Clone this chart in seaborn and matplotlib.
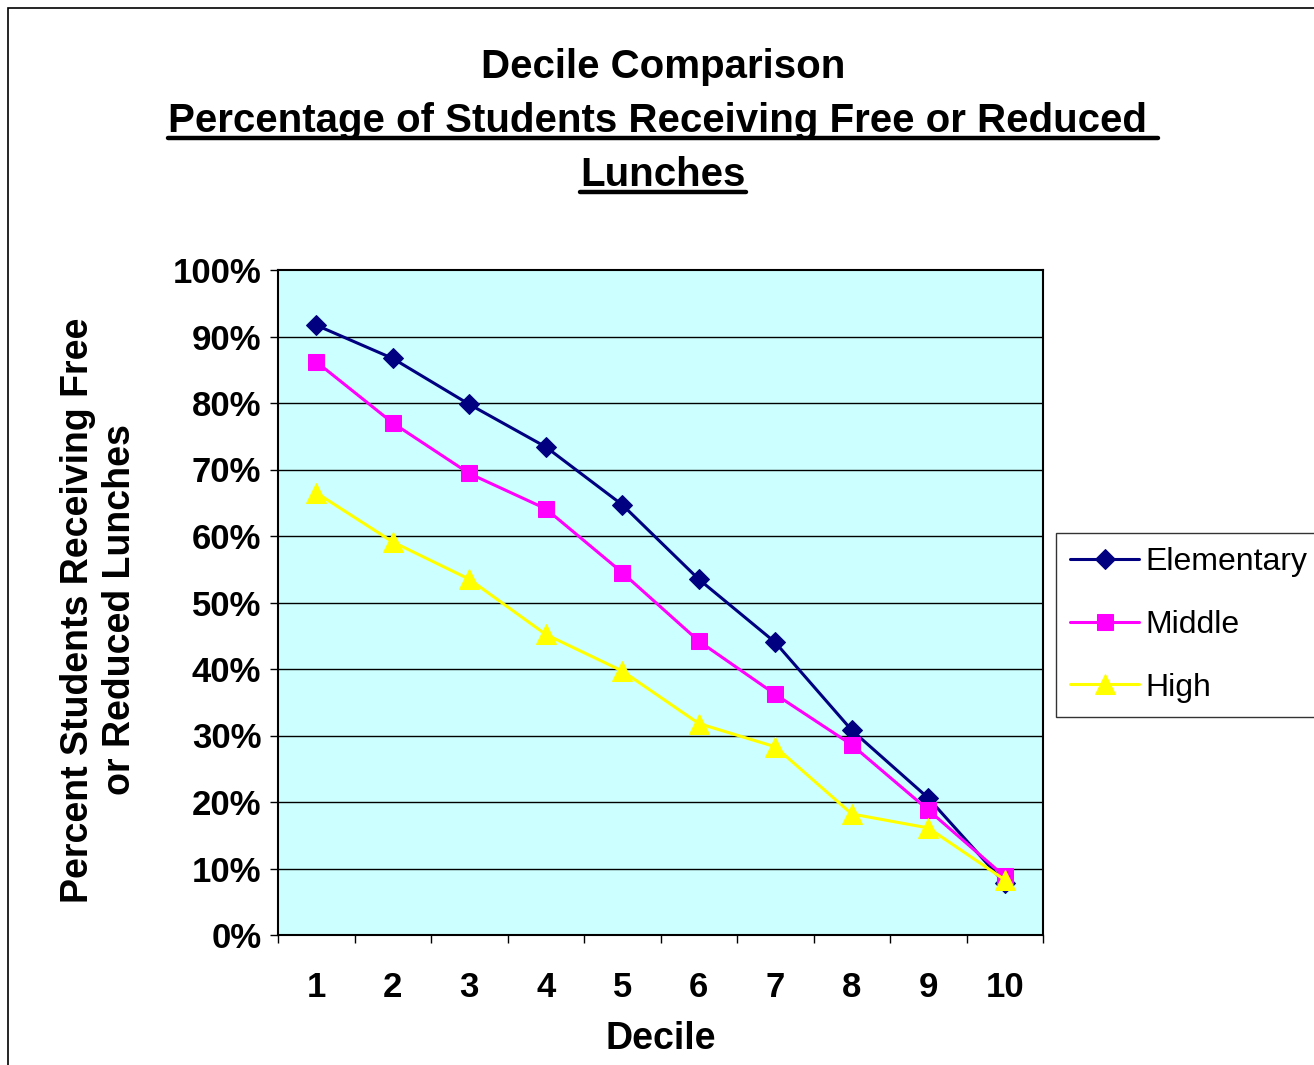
import numpy as np
import pandas as pd
import seaborn as sns
import matplotlib.pyplot as plt
from matplotlib.patches import Rectangle
from matplotlib.lines import Line2D

# values (percent)
deciles = [1, 2, 3, 4, 5, 6, 7, 8, 9, 10]
elementary = [91.7, 86.7, 79.8, 73.4, 64.7, 53.5, 44.0, 30.8, 20.6, 7.8]
middle = [86.2, 77.0, 69.4, 64.1, 54.5, 44.2, 36.2, 28.6, 18.8, 8.8]
high = [66.5, 59.1, 53.5, 45.2, 39.7, 31.8, 28.3, 18.2, 16.1, 8.3]

series_names = ["Elementary", "Middle", "High"]
series_colors = ["#000080", "#FF00FF", "#FFFF00"]
series_markers = ["D", "s", "^"]
series_msize = [10, 11, 14]
y_ticks = [0, 10, 20, 30, 40, 50, 60, 70, 80, 90, 100]
y_labels = [f"{v}%" for v in y_ticks]

sns.set_style("white")
plt.rcParams["font.family"] = ["Liberation Sans", "DejaVu Sans"]
plt.rcParams.update({"text.color": "black", "axes.labelcolor": "black",
                     "xtick.color": "black", "ytick.color": "black"})

W, H = 1314, 1065
fig = plt.figure(figsize=(W / 100, H / 100), dpi=100)
ax = fig.add_axes([278 / W, 1 - 935 / H, (1043 - 278) / W, (935 - 270) / H])
ax.set_facecolor("#CCFFFF")

for name, vals, col, mk, ms in zip(series_names, [elementary, middle, high],
                                   series_colors, series_markers, series_msize):
    sns.lineplot(x=deciles, y=vals, ax=ax, color=col, marker=mk, markersize=ms,
                 markeredgecolor=col, linewidth=2.2, label=name)

ax.set_xlim(0.5, 10.5)
ax.set_ylim(0, 100)
ax.set_yticks(y_ticks)
ax.set_yticklabels(y_labels, fontsize=25, fontweight="bold")
for y in y_ticks[1:-1]:
    ax.axhline(y, color="black", linewidth=1.0, zorder=0.5)

# tick marks between categories, labels at category centres
ax.set_xticks(np.arange(0.5, 11, 1))
ax.set_xticklabels([])
ax.set_xticks(deciles, minor=True)
ax.set_xticklabels([str(d) for d in deciles], minor=True, fontsize=25, fontweight="bold")
ax.tick_params(axis="x", which="major", direction="out", length=6, width=1, bottom=True, color="black")
ax.tick_params(axis="x", which="minor", length=0, pad=26)
ax.tick_params(axis="y", direction="out", length=6, width=1, left=True, color="black", pad=6)
for s in ax.spines.values():
    s.set_color("black")
    s.set_linewidth(1.5)

ax.set_xlabel("Decile", fontsize=27, fontweight="bold", labelpad=12)
ax.set_ylabel("")
fig.text(99 / W, 1 - 610 / H, "Percent Students Receiving Free\nor Reduced Lunches",
         rotation=90, ha="center", va="center", multialignment="center",
         fontsize=27, fontweight="bold", linespacing=1.2)

leg = ax.legend(loc="upper left", bbox_to_anchor=(1056 / W, 1 - 533 / H),
                bbox_transform=fig.transFigure, fontsize=23, frameon=True,
                fancybox=False, edgecolor="black", borderpad=0.45,
                labelspacing=1.02, handlelength=2.15, handletextpad=0.2,
                borderaxespad=0)
leg.get_frame().set_linewidth(1.0)

# figure border
fig.patches.append(Rectangle((8 / W, -0.1), 1.2, 1 - 8 / H + 0.1, transform=fig.transFigure,
                             fill=False, edgecolor="black", linewidth=1.2))

# title lines, two of them underlined
cx = 663 / W
fig.text(cx, 1 - 78 / H, "Decile Comparison", ha="center", va="baseline",
         fontsize=29, fontweight="bold")
t2 = fig.text(cx, 1 - 132 / H, "Percentage of Students Receiving Free or Reduced ",
              ha="center", va="baseline", fontsize=29, fontweight="bold")
t3 = fig.text(cx, 1 - 186 / H, "Lunches", ha="center", va="baseline",
              fontsize=29, fontweight="bold")

fig.canvas.draw()
r = fig.canvas.get_renderer()
for t, base in [(t2, 132), (t3, 186)]:
    bb = t.get_window_extent(r)
    yy = 1 - (base + 6) / H
    fig.lines.append(Line2D([bb.x0 / W, bb.x1 / W], [yy, yy], transform=fig.transFigure,
                            color="black", linewidth=3.2))

fig.savefig("out.png", dpi=100)
